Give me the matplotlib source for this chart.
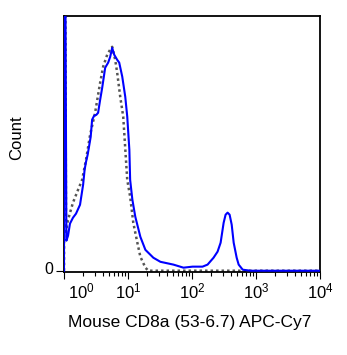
import matplotlib
matplotlib.use("Agg")
import matplotlib.pyplot as plt
import matplotlib.transforms as mtransforms
from matplotlib.ticker import LogLocator, NullFormatter

plt.rcParams["font.family"] = ["Liberation Sans", "DejaVu Sans"]
plt.rcParams["mathtext.fontset"] = "custom"
plt.rcParams["mathtext.rm"] = "Liberation Sans"
plt.rcParams["mathtext.it"] = "Liberation Sans"

# CD8a APC-Cy7 stained sample (solid blue)
stained_x = [1.0, 1.02, 1.09, 1.155, 1.24, 1.38, 1.54, 1.78, 1.99, 2.10, 2.21, 2.34,
             2.61, 2.75, 2.95, 3.20, 3.41, 3.67, 3.95, 4.40, 4.90, 5.27, 5.66, 6.09,
             6.78, 7.29, 8.13, 9.06, 9.73, 10.5, 10.8, 11.7, 13.0, 15.6, 18.7, 24.9,
             32.1, 51.3, 73.6, 102, 146, 175, 217, 251, 280, 312, 335, 360, 387, 417,
             448, 499, 536, 620, 827, 10000]
stained_y = [0, 200, 11.8, 13.7, 18.5, 20.8, 22.4, 25.9, 33.8, 39.7, 42.8, 45.5,
             52.5, 59.3, 60.8, 61.2, 62.0, 67.1, 71.8, 79.7, 81.7, 84.0, 87.5, 84.8,
             82.8, 81.7, 76.2, 68.3, 60.5, 47.5, 35.7, 27.9, 21.2, 13.3, 8.2, 5.1,
             3.5, 2.4, 1.2, 1.6, 1.6, 2.4, 5.1, 7.5, 11.0, 18.8, 22.0, 22.8, 22.0,
             18.1, 11.0, 5.1, 2.4, 0.4, 0, 0]

# Isotype / unstained control (dotted grey)
control_x = [1.0, 1.02, 1.075, 1.155, 1.38, 1.66, 1.92, 2.21, 2.56, 3.06, 3.67,
             4.09, 4.73, 5.27, 5.66, 6.31, 6.78, 7.56, 8.42, 9.73, 10.8, 12.1,
             14.0, 15.6, 18.7, 20.8, 10000]
control_y = [0, 200, 15.3, 20.0, 26.7, 31.8, 35.7, 43.6, 53.4, 62.0, 73.8,
             80.1, 84.8, 86.8, 87.9, 82.8, 77.7, 68.3, 60.5, 35.7, 29.1, 18.8,
             11.0, 5.5, 1.2, 0, 0]

decades = [1, 10, 100, 1000, 10000]
decade_labels = ["$10^{0}$", "$10^{1}$", "$10^{2}$", "$10^{3}$", "$10^{4}$"]

fig = plt.figure(figsize=(3.47, 3.55), dpi=100)
ax = fig.add_axes([64 / 347, 1 - 272 / 355, 256 / 347, 256 / 355])

ax.plot(control_x, control_y, color="#555555", lw=1.8, ls=(0, (1, 1.2)), zorder=2)
ax.plot(stained_x, stained_y, color="#0000ff", lw=1.5, zorder=3)

ax.set_xscale("log")
ax.set_xlim(1, 10000)
ax.set_ylim(-0.5, 100)

ax.set_xticks(decades)
ax.set_xticklabels(decade_labels, fontsize=12)
ax.xaxis.set_minor_locator(LogLocator(base=10, subs=range(2, 10), numticks=20))
ax.xaxis.set_minor_formatter(NullFormatter())
ax.tick_params(axis="x", which="major", direction="out", length=5, width=0.8, pad=2)
ax.tick_params(axis="x", which="minor", direction="out", length=3, width=0.8)

ax.set_yticks([0])
ax.set_yticklabels(["0"], fontsize=11.5)
ax.tick_params(axis="y", which="major", direction="out", length=6, width=0.8, pad=2)

# shift the first decade label clear of the y-axis corner
first = ax.get_xticklabels()[0]
first.set_transform(first.get_transform() +
                    mtransforms.ScaledTranslation(0.17, 0, fig.dpi_scale_trans))
# and lift the zero label slightly
zero = ax.get_yticklabels()[0]
zero.set_transform(zero.get_transform() +
                   mtransforms.ScaledTranslation(0, 0.03, fig.dpi_scale_trans))

for sp in ax.spines.values():
    sp.set_linewidth(1.3)
    sp.set_color("black")

fig.text(190 / 347, 1 - 323 / 355, "Mouse CD8a (53-6.7) APC-Cy7", fontsize=12.5,
         ha="center", va="center")
fig.text(17 / 347, 1 - 138 / 355, "Count", fontsize=12, rotation=90,
         ha="center", va="center")

fig.savefig("out.png", dpi=100)
